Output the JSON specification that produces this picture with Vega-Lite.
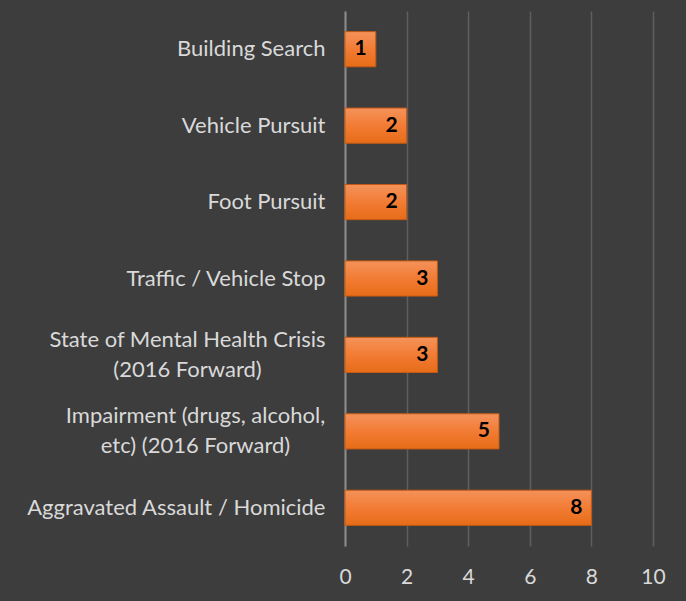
{
  "$schema": "https://vega.github.io/schema/vega-lite/v6.json",
  "autosize": "none",
  "width": 308,
  "height": 535,
  "padding": {"left": 345, "top": 11, "right": 33, "bottom": 55},
  "background": "#3d3d3d",
  "config": {"view": {"stroke": null}},
  "data": {
    "values": [
      {"type": "Building Search", "count": 1},
      {"type": "Vehicle Pursuit", "count": 2},
      {"type": "Foot Pursuit", "count": 2},
      {"type": "Traffic / Vehicle Stop", "count": 3},
      {"type": "State of Mental Health Crisis\n(2016 Forward)", "count": 3},
      {"type": "Impairment (drugs, alcohol,\netc) (2016 Forward)", "count": 5},
      {"type": "Aggravated Assault / Homicide", "count": 8}
    ]
  },
  "encoding": {
    "y": {
      "field": "type",
      "type": "nominal",
      "sort": null,
      "scale": {"paddingInner": 0.54, "paddingOuter": 0.27},
      "axis": {
        "title": null,
        "ticks": false,
        "domainColor": "#8c8c8c",
        "domainWidth": 2,
        "labelColor": "#d9d9d9",
        "labelFont": "Lato",
        "labelFontSize": 22,
        "labelLimit": 400,
        "labelLineHeight": 30,
        "labelAlign": {
          "condition": {"test": "indexof(datum.value, '2016') >= 0", "value": "center"},
          "value": "right"
        },
        "labelPadding": {
          "condition": [
            {"test": "indexof(datum.value, 'State') >= 0", "value": 158},
            {"test": "indexof(datum.value, 'Impairment') >= 0", "value": 150}
          ],
          "value": 20
        },
        "labelOffset": {
          "condition": {"test": "indexof(datum.value, '2016') >= 0", "value": -15},
          "value": 0
        },
        "labelExpr": "split(datum.label, '\\n')"
      }
    }
  },
  "layer": [
    {
      "mark": {
        "type": "bar",
        "fill": {
          "gradient": "linear",
          "x1": 0, "y1": 0, "x2": 0, "y2": 1,
          "stops": [
            {"offset": 0, "color": "#f4925a"},
            {"offset": 0.5, "color": "#f27c35"},
            {"offset": 1, "color": "#e66c17"}
          ]
        },
        "stroke": "#c45a14",
        "strokeWidth": 1
      },
      "encoding": {
        "x": {
          "field": "count",
          "type": "quantitative",
          "scale": {"domain": [0, 10]},
          "axis": {
            "title": null,
            "values": [0, 2, 4, 6, 8, 10],
            "grid": true,
            "gridColor": "#5f5f5f",
            "gridWidth": 1.5,
            "domain": false,
            "ticks": false,
            "labelFlush": false,
            "labelColor": "#d9d9d9",
            "labelFont": "Lato",
            "labelFontSize": 21,
            "labelPadding": 20
          }
        }
      }
    },
    {
      "mark": {
        "type": "text",
        "align": "right",
        "baseline": "middle",
        "dx": -9,
        "font": "Lato",
        "fontWeight": "bold",
        "fontSize": 21,
        "color": "#000000"
      },
      "encoding": {
        "x": {"field": "count", "type": "quantitative"},
        "text": {"field": "count", "type": "quantitative"}
      }
    }
  ]
}
